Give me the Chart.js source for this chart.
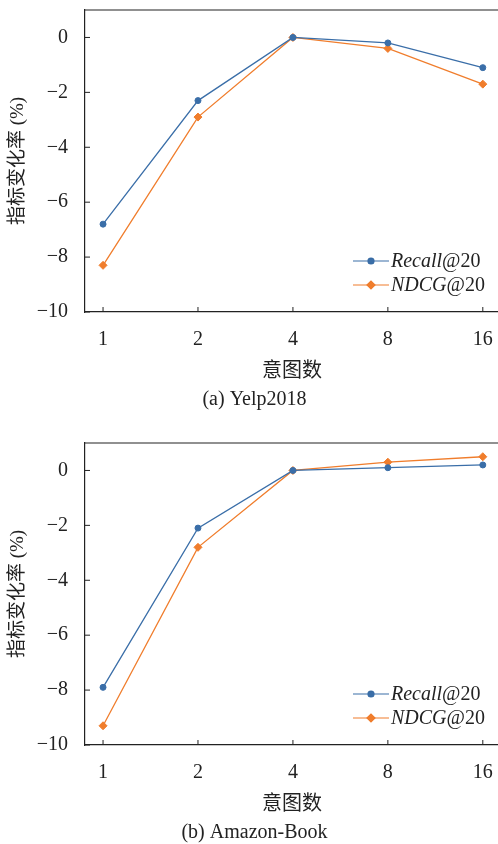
<!DOCTYPE html>
<html>
<head>
<meta charset="utf-8">
<script src="https://cdn.jsdelivr.net/npm/chart.js@4"></script>
<style>
  html, body { margin: 0; padding: 0; background: #fff; overflow: hidden; }
  /* canvases are a bit larger than the view so the plot reaches the right edge */
  .panel { position: absolute; left: 0; width: 509px; height: 439px; }
  #p1 { top: -19px; }
  #p2 { top: 414px; }
</style>
</head>
<body>
<div class="panel" id="p1"><canvas id="chart1"></canvas></div>
<div class="panel" id="p2"><canvas id="chart2"></canvas></div>
<script>
// intent counts on the x axis
const intentLabels = ["1", "2", "4", "8", "16"];
const yTickValues = [-10, -8, -6, -4, -2, 0];

// (a) Yelp2018
const yelpRecall = [-6.8, -2.3, 0, -0.2, -1.1];
const yelpNdcg = [-8.3, -2.9, 0, -0.4, -1.7];

// (b) Amazon-Book
const bookRecall = [-7.9, -2.1, 0, 0.1, 0.2];
const bookNdcg = [-9.3, -2.8, 0, 0.3, 0.5];

const BLUE = "#3a6ea8";
const ORANGE = "#f07d2c";
const FONT = "'Liberation Serif', 'Noto Sans CJK SC', serif";

Chart.defaults.font.family = FONT;
Chart.defaults.color = "#222";

// top border line, inward tick marks, and a legend with line + marker
const framePlugin = {
  id: "frame",
  afterDraw(chart) {
    const { ctx, chartArea, scales } = chart;
    ctx.save();
    ctx.strokeStyle = "#222";
    ctx.lineWidth = 1.2;
    ctx.beginPath();
    ctx.moveTo(chartArea.left, chartArea.top);
    ctx.lineTo(chartArea.right, chartArea.top);
    ctx.stroke();

    ctx.lineWidth = 1;
    scales.x.ticks.forEach((t) => {
      const px = scales.x.getPixelForValue(t.value);
      ctx.beginPath();
      ctx.moveTo(px, chartArea.bottom);
      ctx.lineTo(px, chartArea.bottom - 5);
      ctx.stroke();
    });
    scales.y.ticks.forEach((t) => {
      const py = scales.y.getPixelForValue(t.value);
      ctx.beginPath();
      ctx.moveTo(chartArea.left, py);
      ctx.lineTo(chartArea.left + 5, py);
      ctx.stroke();
    });

    // legend, placed relative to the plot's top left corner
    const lx = chartArea.left + 268;
    const ly = [chartArea.top + 251, chartArea.top + 275];
    chart.data.datasets.forEach((ds, i) => {
      const y = ly[i];
      ctx.strokeStyle = ds.borderColor;
      ctx.lineWidth = 1.2;
      ctx.beginPath();
      ctx.moveTo(lx, y);
      ctx.lineTo(lx + 36, y);
      ctx.stroke();
      Chart.helpers.drawPoint(ctx, {
        pointStyle: ds.pointStyle,
        radius: ds.pointRadius,
        borderWidth: 1
      }, lx + 18, y);
      ctx.fillStyle = ds.borderColor;
      ctx.fill();

      const parts = ds.label.split("@");
      ctx.fillStyle = "#222";
      ctx.textBaseline = "middle";
      ctx.textAlign = "left";
      ctx.font = "italic 20px " + FONT;
      ctx.fillText(parts[0], lx + 38, y + 1);
      const w = ctx.measureText(parts[0]).width;
      ctx.font = "20px " + FONT;
      ctx.fillText("@" + parts[1], lx + 38 + w, y + 1);
    });
    ctx.restore();
  }
};

function makeChart(id, recall, ndcg, caption) {
  const toPts = (arr) => arr.map((v, i) => ({ x: i, y: v }));
  return new Chart(document.getElementById(id), {
    type: "line",
    data: {
      datasets: [
        {
          label: "Recall@20",
          data: toPts(recall),
          borderColor: BLUE,
          backgroundColor: BLUE,
          borderWidth: 1.3,
          pointStyle: "circle",
          pointRadius: 3,
          pointBorderWidth: 1
        },
        {
          label: "NDCG@20",
          data: toPts(ndcg),
          borderColor: ORANGE,
          backgroundColor: ORANGE,
          borderWidth: 1.3,
          pointStyle: "rectRot",
          pointRadius: 4,
          pointBorderWidth: 1
        }
      ]
    },
    options: {
      responsive: true,
      maintainAspectRatio: false,
      animation: false,
      layout: { padding: { top: 0, right: 0, left: 0, bottom: 8 } },
      plugins: {
        legend: { display: false },
        tooltip: { enabled: false },
        title: {
          display: true,
          position: "bottom",
          text: caption,
          font: { size: 20, weight: "normal", lineHeight: 1.2 },
          padding: 0
        }
      },
      scales: {
        x: {
          type: "linear",
          min: -0.19,
          max: 4.17,
          afterBuildTicks: (s) => { s.ticks = intentLabels.map((_, i) => ({ value: i })); },
          afterFit: (s) => { s.height = 76; },
          ticks: {
            callback: (v) => intentLabels[v],
            font: { size: 20, lineHeight: 1.2 },
            padding: 16,
            maxRotation: 0
          },
          grid: { display: false, drawTicks: false },
          border: { display: true, color: "#222", width: 1.2 },
          title: {
            display: true,
            text: "意图数",
            font: { size: 20, lineHeight: 1.2 },
            padding: { top: 0, bottom: 4 }
          }
        },
        y: {
          min: -10,
          max: 1,
          afterBuildTicks: (s) => { s.ticks = yTickValues.map((v) => ({ value: v })); },
          afterFit: (s) => { s.width = 85; },
          ticks: {
            callback: (v) => (v < 0 ? "\u2212" + Math.abs(v) : String(v)),
            font: { size: 20 },
            padding: 17
          },
          grid: { display: false, drawTicks: false },
          border: { display: true, color: "#222", width: 1.2 },
          title: {
            display: true,
            text: "指标变化率 (%)",
            font: { size: 19, lineHeight: 1.2 },
            padding: { top: 7, bottom: 0 }
          }
        }
      }
    },
    plugins: [framePlugin]
  });
}

makeChart("chart1", yelpRecall, yelpNdcg, "(a) Yelp2018");
makeChart("chart2", bookRecall, bookNdcg, "(b) Amazon-Book");
</script>
</body>
</html>
